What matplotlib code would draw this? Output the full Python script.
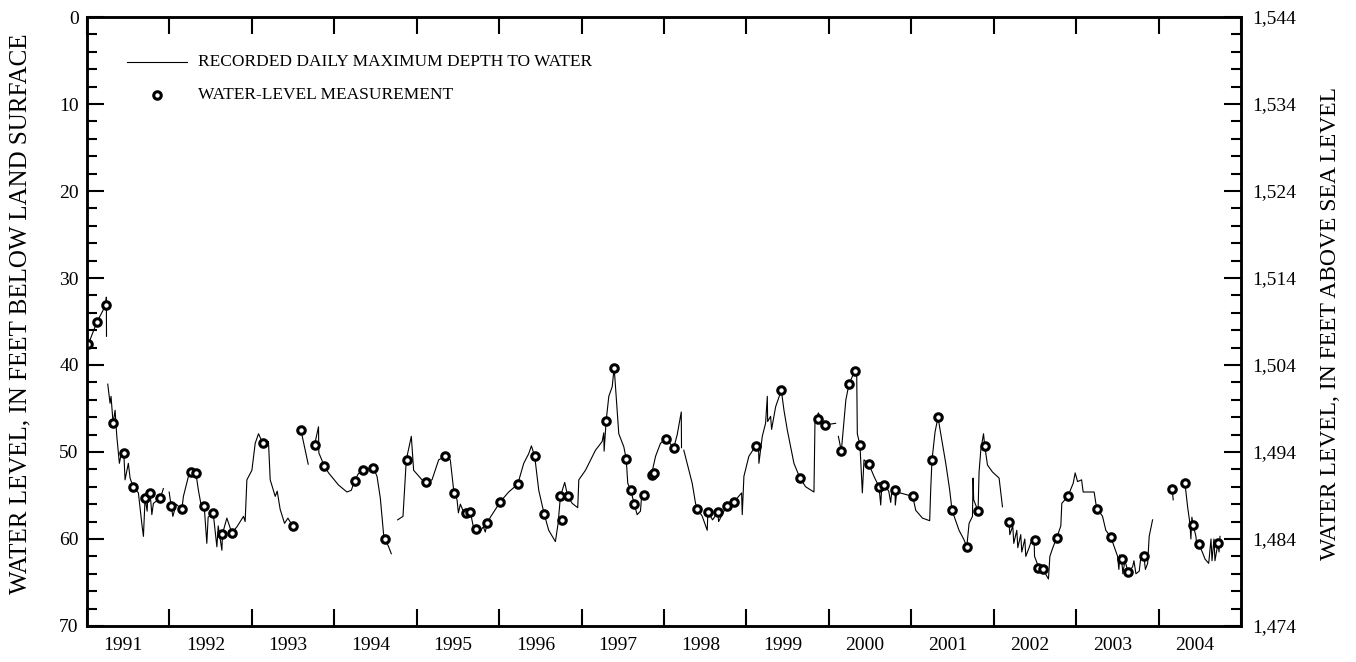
import numpy as np
import matplotlib
matplotlib.use("Agg")
import matplotlib.pyplot as plt
from matplotlib.ticker import MultipleLocator, FuncFormatter, FixedLocator

plt.rcParams['font.family'] = ['Liberation Serif', 'DejaVu Serif']

LAND_SURFACE = 1544  # feet above sea level

NaN = np.nan
# Recorded daily maximum depth to water (decimal year, feet below land surface); NaN = gap
line_years = [
    1991.016, 1991.118, 1991.227, 1991.234, 1991.236, NaN,
    1991.251, 1991.279, 1991.291, 1991.316, 1991.340, 1991.361, 1991.392, 1991.419, 1991.446,
    1991.461, 1991.501, 1991.522, 1991.559, 1991.623, 1991.664, 1991.684, 1991.704, 1991.729,
    1991.741, 1991.765, 1991.786, 1991.805, 1991.862, 1991.890, 1991.926, NaN,
    1991.996, 1992.020, 1992.041, 1992.081, 1992.150, 1992.169, 1992.230, 1992.263, 1992.320,
    1992.351, 1992.393, 1992.421, 1992.453, 1992.469, 1992.530, 1992.575, 1992.591, 1992.636,
    1992.643, 1992.696, 1992.757, 1992.818, 1992.898, 1992.918, 1992.939, 1993.000, 1993.040,
    1993.080, 1993.133, 1993.201, 1993.222, 1993.283, 1993.307, 1993.343, 1993.396, 1993.437,
    1993.493, NaN,
    1993.595, 1993.683, NaN,
    1993.760, 1993.808, 1993.812, 1993.878, 1993.930, 1994.051, 1994.153, 1994.206, 1994.246,
    1994.291, 1994.343, 1994.473, 1994.518, 1994.558, 1994.598, 1994.610, 1994.655, 1994.691, NaN,
    1994.768, 1994.833, 1994.873, 1994.934, 1994.962, 1995.064, 1995.108, 1995.185, 1995.266,
    1995.343, 1995.407, 1995.448, 1995.489, 1995.505, 1995.529, 1995.569, 1995.602, 1995.650,
    1995.691, 1995.723, 1995.760, 1995.808, 1995.832, 1995.853, 1995.893, 1996.015, 1996.115,
    1996.225, 1996.298, 1996.358, 1996.391, 1996.431, 1996.460, 1996.480, 1996.545, 1996.601,
    1996.682, 1996.715, 1996.743, 1996.795, 1996.832, 1996.885, 1996.953, 1996.966, 1997.047,
    1997.168, 1997.249, 1997.269, 1997.273, 1997.298, 1997.330, 1997.371, 1997.395, 1997.451,
    1997.512, 1997.541, 1997.560, 1997.597, 1997.638, 1997.674, 1997.714, 1997.727, 1997.751, NaN,
    1997.848, 1997.897, 1997.957, 1998.022, 1998.119, 1998.160, 1998.209, 1998.212, NaN,
    1998.240, 1998.301, 1998.342, 1998.382, 1998.403, 1998.464, 1998.524, 1998.532, 1998.589,
    1998.653, 1998.662, 1998.759, 1998.852, 1998.941, 1998.949, 1998.969, 1999.029, 1999.111,
    1999.147, 1999.151, 1999.192, 1999.232, 1999.253, 1999.257, 1999.293, 1999.305, 1999.354,
    1999.423, 1999.455, 1999.496, 1999.536, 1999.576, 1999.649, 1999.718, 1999.819,
    1999.831, 1999.872, 1999.949, 2000.082, NaN,
    2000.115, 2000.151, 2000.206, 2000.244, 2000.313, 2000.337, 2000.345, 2000.377, 2000.406,
    2000.426, 2000.486, 2000.547, 2000.608, 2000.629, 2000.641, 2000.673, 2000.726, 2000.750,
    2000.762, 2000.802, 2000.806, 2000.823, 2001.017, 2001.054, 2001.135, 2001.223, 2001.235,
    2001.251, 2001.288, 2001.324, 2001.357, 2001.418, 2001.466, 2001.494, 2001.579, 2001.640,
    2001.673, 2001.701, 2001.742, 2001.749, 2001.757, 2001.810, 2001.822, 2001.843, 2001.876,
    2001.891, 2001.924, 2001.985, 2002.065, 2002.106, NaN,
    2002.186, 2002.195, 2002.231, 2002.243, 2002.280, 2002.292, 2002.328, 2002.340, 2002.377,
    2002.389, 2002.429, 2002.450, 2002.490, 2002.495, 2002.543, 2002.592, 2002.664, 2002.681,
    2002.717, 2002.762, 2002.814, 2002.826, 2002.899, 2002.964, 2002.988, 2003.017, 2003.066,
    2003.085, 2003.218, 2003.239, 2003.255, 2003.320, 2003.360, 2003.421, 2003.503, 2003.518,
    2003.531, 2003.551, 2003.567, 2003.591, 2003.631, 2003.685, 2003.701, 2003.725, 2003.765,
    2003.786, 2003.822, 2003.840, 2003.867, 2003.886, 2003.927, NaN,
    2004.165, 2004.177, NaN,
    2004.320, 2004.352, 2004.380, 2004.392, 2004.404, 2004.420, 2004.453, 2004.465, 2004.489,
    2004.535, 2004.563, 2004.608, 2004.636, 2004.648, 2004.672, 2004.684, 2004.720, 2004.733,
    2004.745,
]
line_depths = [
    37.6, 35.1, 33.1, 32.2, 36.7, NaN,
    42.2, 44.4, 43.6, 46.7, 45.2, 48.2, 51.3, 50.0, 50.1,
    53.2, 51.3, 53.0, 54.0, 54.7, 58.2, 59.7, 55.3, 56.8,
    54.5, 54.7, 57.2, 55.9, 55.5, 55.3, 54.2, NaN,
    54.6, 56.2, 57.4, 56.0, 56.6, 55.1, 52.8, 52.3, 52.4,
    54.4, 56.6, 56.2, 60.5, 57.5, 57.0, 60.9, 58.5, 61.3,
    59.4, 57.6, 59.3, 58.6, 57.4, 58.0, 53.2, 52.1, 49.0,
    47.9, 49.0, 48.8, 53.2, 55.1, 54.5, 56.6, 58.2, 57.6,
    58.5, NaN,
    47.5, 51.4, NaN,
    49.2, 47.1, 50.1, 51.6, 52.4, 53.8, 54.6, 54.4, 53.3,
    52.5, 52.1, 51.8, 52.8, 55.3, 59.5, 60.0, 60.8, 61.7, NaN,
    57.8, 57.4, 50.9, 48.2, 52.1, 53.2, 53.5, 53.2, 50.9,
    50.5, 50.9, 54.4, 55.5, 57.0, 56.0, 56.9, 57.0, 56.9,
    58.8, 58.8, 59.2, 58.6, 59.2, 58.2, 57.5, 55.7, 54.6,
    53.7, 51.3, 50.2, 49.3, 50.5, 52.8, 54.4, 57.1, 59.0,
    60.3, 58.2, 55.1, 53.5, 55.1, 55.9, 56.4, 53.2, 52.1,
    49.8, 48.8, 47.8, 49.9, 46.4, 43.6, 42.5, 40.3, 47.9,
    49.4, 50.8, 53.6, 54.4, 56.0, 57.2, 56.8, 55.2, 55.0, NaN,
    52.6, 50.5, 49.0, 48.5, 49.5, 48.0, 45.4, 49.5, NaN,
    49.8, 52.1, 53.6, 55.9, 56.5, 57.4, 59.0, 56.9, 57.8,
    56.9, 58.0, 56.2, 55.7, 54.7, 57.2, 52.8, 50.5, 49.3,
    49.5, 51.3, 48.2, 46.7, 43.6, 46.5, 45.9, 47.4, 44.8,
    42.9, 45.2, 47.5, 49.4, 51.3, 53.0, 54.0, 54.6,
    46.7, 45.5, 46.9, 46.7, NaN,
    48.2, 49.9, 44.0, 42.2, 40.7, 40.5, 47.9, 49.2, 54.7,
    50.9, 51.4, 52.8, 54.0, 56.1, 54.0, 53.8, 54.5, 55.8,
    54.6, 54.4, 56.1, 54.6, 55.1, 56.7, 57.6, 57.9, 54.4,
    50.9, 47.7, 46.0, 47.9, 51.3, 54.4, 56.7, 59.0, 60.1,
    60.9, 58.2, 57.4, 53.0, 55.5, 56.8, 52.3, 49.8, 47.9,
    49.3, 51.5, 52.3, 53.0, 56.3, NaN,
    58.0, 59.5, 58.5, 60.5, 59.0, 61.0, 59.5, 61.5, 60.0,
    62.0, 61.0, 60.4, 60.1, 62.0, 63.2, 63.4, 64.6, 62.0,
    61.0, 59.9, 58.5, 55.9, 55.1, 53.6, 52.4, 53.4, 53.2,
    54.6, 54.6, 55.9, 56.5, 57.4, 59.0, 59.8, 62.0, 63.5,
    61.8, 62.3, 64.0, 62.5, 63.8, 63.2, 62.5, 64.0, 63.7,
    62.0, 62.0, 63.5, 62.8, 59.7, 57.8, NaN,
    54.2, 55.5, NaN,
    53.6, 56.3, 58.2, 60.0, 57.5, 58.4, 59.7, 61.0, 60.6,
    61.6, 62.3, 62.8, 60.0, 62.5, 60.0, 62.5, 60.5, 61.5,
    59.7,
]

# Periodic water-level measurements
meas_years = [
    1991.016, 1991.118, 1991.227, 1991.316, 1991.446, 1991.559, 1991.704, 1991.765, 1991.890,
    1992.020, 1992.150, 1992.263, 1992.320, 1992.421, 1992.530, 1992.643, 1992.757,
    1993.133, 1993.493, 1993.595, 1993.760, 1993.878,
    1994.246, 1994.343, 1994.473, 1994.610, 1994.882,
    1995.108, 1995.343, 1995.456, 1995.602, 1995.650, 1995.723, 1995.853,
    1996.015, 1996.225, 1996.431, 1996.545, 1996.743, 1996.764, 1996.832,
    1997.298, 1997.395, 1997.541, 1997.597, 1997.638, 1997.751, 1997.848, 1997.884,
    1998.022, 1998.119, 1998.403, 1998.532, 1998.653, 1998.759, 1998.852,
    1999.111, 1999.423, 1999.649, 1999.872, 1999.949,
    2000.151, 2000.244, 2000.313, 2000.377, 2000.486, 2000.608, 2000.673, 2000.802,
    2001.017, 2001.251, 2001.324, 2001.494, 2001.673, 2001.810, 2001.891,
    2002.186, 2002.495, 2002.543, 2002.592, 2002.762, 2002.899,
    2003.255, 2003.421, 2003.551, 2003.631, 2003.822,
    2004.165, 2004.320, 2004.420, 2004.489, 2004.720,
]
meas_depths = [
    37.6, 35.1, 33.1, 46.7, 50.1, 54.0, 55.3, 54.7, 55.3,
    56.2, 56.6, 52.3, 52.4, 56.2, 57.0, 59.4, 59.3,
    49.0, 58.5, 47.5, 49.2, 51.6,
    53.3, 52.1, 51.8, 60.0, 50.9,
    53.5, 50.5, 54.7, 57.0, 56.9, 58.8, 58.2,
    55.7, 53.7, 50.5, 57.1, 55.1, 57.8, 55.1,
    46.4, 40.3, 50.8, 54.4, 56.0, 55.0, 52.6, 52.4,
    48.5, 49.5, 56.5, 56.9, 56.9, 56.2, 55.7,
    49.3, 42.9, 53.0, 46.2, 46.9,
    49.9, 42.2, 40.7, 49.2, 51.4, 54.0, 53.8, 54.4,
    55.1, 50.9, 46.0, 56.7, 60.9, 56.8, 49.3,
    58.0, 60.1, 63.3, 63.4, 59.9, 55.1,
    56.5, 59.8, 62.3, 63.8, 62.0,
    54.2, 53.6, 58.4, 60.6, 60.5,
]

years = list(range(1991, 2005))
year_labels = [str(y) for y in years]
depth_ticks = list(range(0, 71, 10))
legend_labels = ["RECORDED DAILY MAXIMUM DEPTH TO WATER", "WATER-LEVEL MEASUREMENT"]
left_title = "WATER LEVEL, IN FEET BELOW LAND SURFACE"
right_title = "WATER LEVEL, IN FEET ABOVE SEA LEVEL"

MARKER = dict(marker='o', ms=5.4, mfc='white', mec='black', mew=2.2, linestyle='none')

fig = plt.figure(figsize=(13.56, 6.62), dpi=100)
ax = fig.add_axes([0.0642, 0.0544, 0.8510, 0.9199])

ax.plot(line_years, line_depths, color='black', lw=0.8, zorder=2)
ax.plot(meas_years, meas_depths, zorder=3, **MARKER)

ax.set_xlim(1991, 2005)
ax.set_ylim(70, 0)

# Y axis (left)
ax.yaxis.set_major_locator(FixedLocator(depth_ticks))
ax.yaxis.set_minor_locator(MultipleLocator(2))
ax.tick_params(axis='y', which='major', direction='in', length=12.5, width=1.5,
               labelsize=14, pad=6, left=True, right=False)
ax.tick_params(axis='y', which='minor', direction='in', length=7.5, width=1.5,
               left=True, right=False)

# X axis: year boundaries as ticks, labels centred in each year
ax.xaxis.set_major_locator(FixedLocator(years + [2005]))
ax.xaxis.set_major_formatter(FuncFormatter(lambda v, p: ''))
ax.xaxis.set_minor_locator(FixedLocator([y + 0.44 for y in years]))
ax.xaxis.set_minor_formatter(FuncFormatter(
    lambda v, p: year_labels[p] if p is not None and p < len(year_labels) else ''))
ax.tick_params(axis='x', which='major', direction='in', length=12.5, width=1.5,
               top=True, bottom=True)
ax.tick_params(axis='x', which='minor', length=0, labelsize=14, pad=8)

for s in ax.spines.values():
    s.set_linewidth(1.8)

# Right axis: altitude
ax2 = ax.twinx()
ax2.set_ylim(LAND_SURFACE - 70, LAND_SURFACE)
ax2.yaxis.set_major_locator(FixedLocator([LAND_SURFACE - d for d in depth_ticks]))
ax2.yaxis.set_minor_locator(MultipleLocator(2))
ax2.yaxis.set_major_formatter(FuncFormatter(lambda v, p: f"{int(round(v)):,}"))
ax2.tick_params(axis='y', which='major', direction='in', length=12.5, width=1.5,
                labelsize=14, pad=8)
ax2.tick_params(axis='y', which='minor', direction='in', length=7.5, width=1.5)
for s in ax2.spines.values():
    s.set_linewidth(1.8)

# Axis titles
fig.text(20 / 1356, 1 - 314 / 662, left_title, rotation=90, ha='center', va='center',
         fontsize=18)
fig.text(1330 / 1356, 1 - 323 / 662, right_title, rotation=90, ha='center', va='center',
         fontsize=17)

# Legend (drawn manually as in the original)
ax.plot([0.0347, 0.0867], [0.926, 0.926], transform=ax.transAxes, color='black', lw=0.8)
ax.text(0.0962, 0.926, legend_labels[0], transform=ax.transAxes, fontsize=12.5, va='center')
ax.plot([0.0607], [0.872], transform=ax.transAxes, **MARKER)
ax.text(0.0962, 0.872, legend_labels[1], transform=ax.transAxes, fontsize=12.5, va='center')

fig.savefig("out.png", dpi=100)
